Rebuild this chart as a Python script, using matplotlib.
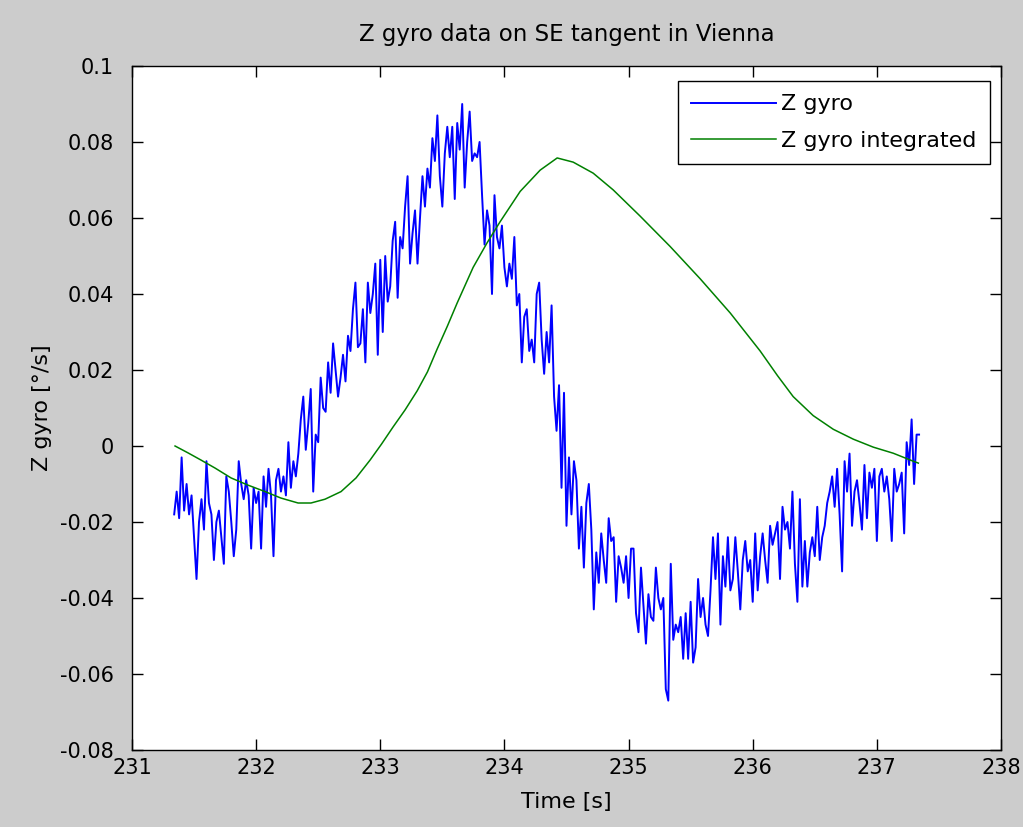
import numpy as np
import matplotlib.pyplot as plt

# Z gyro samples (in 1e-3 deg/s), one every 0.02 s from t0
t0 = 231.34
dt = 0.02
gyro_milli = [
    -18, -12, -19, -3, -17,
    -10, -18, -13, -24, -35,
    -20, -14, -22, -4, -15,
    -18, -30, -20, -17, -24,
    -31, -8, -12, -20, -29,
    -22, -4, -10, -14, -9,
    -13, -27, -11, -15, -12,
    -27, -8, -16, -6, -13,
    -29, -9, -6, -12, -8,
    -13, 1, -11, -4, -8,
    -2, 7, 13, -1, 6,
    15, -12, 3, 1, 18,
    10, 9, 22, 14, 27,
    20, 13, 18, 24, 17,
    29, 25, 36, 43, 26,
    27, 36, 22, 43, 35,
    40, 48, 24, 49, 30,
    50, 38, 42, 54, 59,
    39, 55, 52, 63, 71,
    48, 56, 62, 48, 60,
    71, 63, 73, 68, 81,
    75, 87, 71, 63, 77,
    84, 76, 84, 65, 85,
    78, 90, 68, 80, 88,
    75, 77, 76, 80, 66,
    53, 62, 58, 40, 66,
    55, 52, 58, 47, 42,
    48, 44, 55, 37, 40,
    22, 34, 36, 25, 28,
    22, 40, 43, 28, 19,
    30, 22, 37, 13, 4,
    16, -11, 14, -21, -3,
    -18, -4, -9, -27, -16,
    -32, -15, -10, -22, -43,
    -28, -36, -23, -30, -36,
    -19, -25, -24, -41, -29,
    -32, -36, -29, -40, -27,
    -27, -44, -49, -32, -42,
    -52, -39, -45, -46, -32,
    -40, -43, -40, -64, -67,
    -31, -51, -47, -49, -45,
    -56, -44, -56, -41, -57,
    -53, -35, -45, -40, -47,
    -50, -38, -24, -35, -23,
    -47, -29, -37, -24, -38,
    -35, -24, -33, -43, -30,
    -25, -33, -30, -41, -23,
    -38, -29, -23, -30, -36,
    -21, -26, -23, -20, -35,
    -16, -22, -20, -27, -12,
    -31, -41, -14, -37, -25,
    -37, -28, -24, -29, -16,
    -30, -24, -21, -15, -12,
    -8, -16, -6, -18, -33,
    -4, -12, -2, -21, -12,
    -9, -15, -22, -5, -19,
    -7, -11, -6, -25, -8,
    -6, -12, -8, -14, -25,
    -6, -12, -10, -7, -23,
    1, -5, 7, -10, 3,
    3,
]

# integrated curve
integ_t = [231.347, 231.451, 231.556, 231.669, 231.798, 231.935, 232.072, 232.2,
           232.338, 232.442, 232.555, 232.684, 232.805, 232.918, 233.01, 233.103,
           233.2, 233.297, 233.38, 233.458, 233.54, 233.619, 233.748, 233.861,
           233.965, 234.127, 234.288, 234.425, 234.554, 234.715, 234.876, 235.093,
           235.335, 235.577, 235.819, 236.06, 236.2, 236.326, 236.487, 236.649,
           236.81, 236.971, 237.132, 237.293, 237.334]
integ_milli = [0, -1.8, -3.7, -5.8, -8.4, -10.3, -12, -13.7,
               -15, -15, -14, -12, -8.4, -3.7, 0.5, 5,
               9.5, 14.5, 19.5, 25.5, 31.5, 37.6, 47, 53.5,
               59, 67, 72.6, 75.8, 74.7, 71.8, 67.4, 60.5,
               52.5, 44, 35, 25, 18.5, 13, 8, 4.4,
               1.8, -0.3, -1.9, -4.0, -4.5]

xticks = [231, 232, 233, 234, 235, 236, 237, 238]
yticks = [-0.08, -0.06, -0.04, -0.02, 0, 0.02, 0.04, 0.06, 0.08, 0.1]
ytick_labels = ['-0.08', '-0.06', '-0.04', '-0.02', '0', '0.02', '0.04', '0.06', '0.08', '0.1']

gyro = np.array(gyro_milli) * 1e-3
t = t0 + dt * np.arange(len(gyro))
integ = np.array(integ_milli) * 1e-3

plt.rcParams['font.family'] = ['DejaVu Sans']
fig = plt.figure(figsize=(10.23, 8.27), dpi=100, facecolor='#cccccc')
ax = fig.add_axes([0.129, 0.0931, 0.8495, 0.8271])

ax.plot(t, gyro, color=(0, 0, 1), lw=1.4, label='Z gyro')
ax.plot(integ_t, integ, color=(0, 0.5, 0), lw=1.1, label='Z gyro integrated')

ax.set_xlim(231, 238)
ax.set_ylim(-0.08, 0.1)
ax.set_xticks(xticks)
ax.set_xticklabels([str(x) for x in xticks])
ax.set_yticks(yticks)
ax.set_yticklabels(ytick_labels)
ax.tick_params(direction='in', length=8, width=1, top=True, right=True,
               labelsize=15)
ax.tick_params(axis='y', pad=13)
ax.tick_params(axis='x', pad=6)
for s in ax.spines.values():
    s.set_linewidth(1)

ax.set_xlabel('Time [s]', fontsize=16, labelpad=10)
ax.set_ylabel('Z gyro [°/s]', fontsize=16, labelpad=6)
ax.set_title('Z gyro data on SE tangent in Vienna', fontsize=16.5, pad=18)

leg = ax.legend(loc='upper right', bbox_to_anchor=(0.9873, 0.978), fontsize=16,
                fancybox=False, framealpha=1, edgecolor='black',
                handlelength=3.8, handletextpad=0.25, borderaxespad=0,
                borderpad=0.6, labelspacing=0.75)
leg.get_frame().set_linewidth(1)

fig.savefig('out.png', dpi=100, facecolor=fig.get_facecolor())
